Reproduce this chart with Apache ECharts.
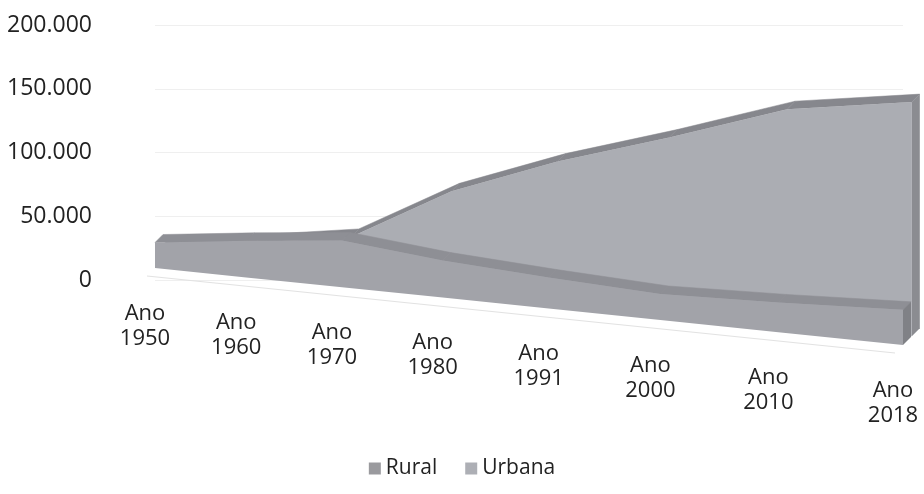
<!DOCTYPE html>
<html>
<head>
<meta charset="utf-8">
<script src="https://cdn.jsdelivr.net/npm/echarts@6/dist/echarts.min.js"></script>
<style>
  html, body { margin: 0; padding: 0; background: #fff; }
  #chart { width: 924px; height: 494px; }
</style>
</head>
<body>
<div id="chart"></div>
<script>
// dados (populacao)
const anos = ['1950', '1960', '1970', '1980', '1991', '2000', '2010', '2018']
const rotulos = anos.map(a => 'Ano\n' + a)
const rural = [20000, 28000, 35000, 27000, 22000, 18000, 20000, 23000]
const urbana = [12000, 20000, 31000, 71000, 98000, 120000, 144000, 153000]
const yTicks = [0, 50000, 100000, 150000, 200000]

// perspectiva "3D" feita a mao em cima das coordenadas do grid
const PERSP = 0.2      // quanto o lado direito fica mais perto
const TILT = 77        // descida do piso da esquerda para a direita
const FLOOR_DY = -12   // piso frontal em relacao ao zero do eixo
const DX = 8, DY = -8  // vetor de profundidade

function fmt (v) {
  return String(v).replace(/\B(?=(\d{3})+(?!\d))/g, '.')
}

function projector (api) {
  const a = api.coord([0, 0])
  const b = api.coord([anos.length - 1, 0])
  const w = b[0] - a[0]
  return function (i, v, z) {
    const p = api.coord([i, v])
    const t = (p[0] - a[0]) / w
    const f = t / (1 + PERSP * (1 - t))
    const s = (1 + PERSP) / (1 + PERSP * (1 - t))
    return [
      a[0] + f * w + z * DX,
      a[1] + FLOOR_DY + TILT * f - (a[1] - p[1]) * s + z * DY
    ]
  }
}

function ribbon (values, z0, z1, cor) {
  return function (params, api) {
    if (params.dataIndex !== 0) return null
    const P = projector(api)
    const n = values.length
    const ft = [], fb = [], bt = [], bb = []
    for (let i = 0; i < n; i++) {
      ft.push(P(i, values[i], z0))
      fb.push(P(i, 0, z0))
      bt.push(P(i, values[i], z1))
      bb.push(P(i, 0, z1))
    }
    const children = []
    for (let i = 0; i < n - 1; i++) {
      children.push({
        type: 'polygon',
        shape: { points: [ft[i], ft[i + 1], bt[i + 1], bt[i]] },
        style: { fill: cor.topo, stroke: cor.topo, lineWidth: 0.5 }
      })
    }
    children.push({
      type: 'polygon',
      shape: { points: ft.concat(fb.slice().reverse()) },
      style: { fill: cor.frente }
    })
    children.push({
      type: 'polygon',
      shape: { points: [fb[n - 1], ft[n - 1], bt[n - 1], bb[n - 1]] },
      style: { fill: cor.lado }
    })
    return { type: 'group', children: children }
  }
}

function eixoX (params, api) {
  if (params.dataIndex !== 0) return null
  const P = projector(api)
  const children = []
  const l = P(0, 0, -1)
  const r = P(anos.length - 1, 0, -1)
  children.push({
    type: 'line',
    shape: { x1: l[0], y1: l[1], x2: r[0], y2: r[1] },
    style: { stroke: '#e2e2e2', lineWidth: 1 }
  })
  for (let i = 0; i < anos.length; i++) {
    const p = P(i, 0, 0)
    children.push({
      type: 'text',
      x: p[0] - 10,
      y: p[1] + 58,
      style: {
        text: rotulos[i],
        fill: '#222',
        fontSize: 22,
        fontFamily: 'Open Sans',
        lineHeight: 25,
        align: 'center',
        verticalAlign: 'middle'
      }
    })
  }
  return { type: 'group', children: children }
}

const chart = echarts.init(document.getElementById('chart'))
chart.setOption({
  animation: false,
  backgroundColor: '#fff',
  grid: { left: 155, right: 21, top: 25, bottom: 214 },
  legend: {
    data: ['Rural', 'Urbana'],
    top: 453,
    left: 'center',
    icon: 'rect',
    itemWidth: 12,
    itemHeight: 12,
    itemGap: 28,
    textStyle: { fontSize: 21, color: '#222', fontFamily: 'Open Sans' }
  },
  xAxis: {
    type: 'category',
    data: anos,
    boundaryGap: false,
    show: false
  },
  yAxis: {
    type: 'value',
    min: yTicks[0],
    max: yTicks[yTicks.length - 1],
    interval: yTicks[1] - yTicks[0],
    axisLine: { show: false },
    axisTick: { show: false },
    axisLabel: {
      margin: 63,
      fontSize: 23,
      color: '#222',
      fontFamily: 'Open Sans',
      formatter: v => fmt(v)
    },
    splitLine: { lineStyle: { color: '#efefef', width: 1 } }
  },
  series: [
    {
      name: 'eixo',
      type: 'custom',
      silent: true,
      renderItem: eixoX,
      data: anos.map((a, i) => [i, 0])
    },
    {
      name: 'Urbana',
      type: 'custom',
      renderItem: ribbon(urbana, 1.1, 2.1, { frente: '#abadb3', topo: '#86878d', lado: '#8b8c91' }),
      itemStyle: { color: '#adafb5' },
      encode: { x: 0, y: 1 },
      data: urbana.map((v, i) => [i, v])
    },
    {
      name: 'Rural',
      type: 'custom',
      renderItem: ribbon(rural, 0, 1, { frente: '#a2a3a9', topo: '#8e8f95', lado: '#808186' }),
      itemStyle: { color: '#9a9a9e' },
      encode: { x: 0, y: 1 },
      data: rural.map((v, i) => [i, v])
    }
  ]
})
</script>
</body>
</html>
